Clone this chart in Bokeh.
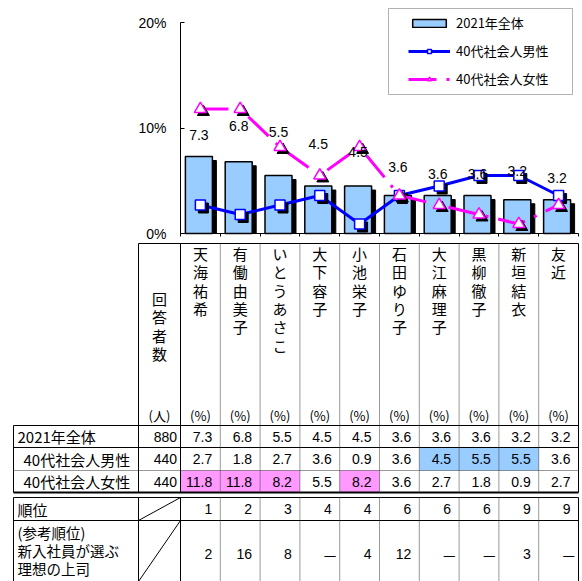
from bokeh.plotting import figure
from bokeh.models import (Range1d, LinearAxis, FixedTicker, PrintfTickFormatter,
                          Legend, LegendItem, BoxAnnotation)
from bokeh.core.properties import value
from bokeh.embed import file_html
from bokeh.resources import INLINE

# ---------------- data ----------------
names = ["天海祐希", "有働由美子", "いとうあさこ", "大下容子", "小池栄子",
         "石田ゆり子", "大江麻理子", "黒柳徹子", "新垣結衣", "友近"]
total = [7.3, 6.8, 5.5, 4.5, 4.5, 3.6, 3.6, 3.6, 3.2, 3.2]
male = [2.7, 1.8, 2.7, 3.6, 0.9, 3.6, 4.5, 5.5, 5.5, 3.6]
female = [11.8, 11.8, 8.2, 5.5, 8.2, 3.6, 2.7, 1.8, 0.9, 2.7]
male_hi = [False, False, False, False, False, False, True, True, True, False]
female_hi = [True, True, True, False, True, False, False, False, False, False]
rank = [1, 2, 3, 4, 4, 6, 6, 6, 9, 9]
ref_rank = [2, 16, 8, None, 4, 12, None, None, 3, None]
row_labels = ["2021年全体", "40代社会人男性", "40代社会人女性"]
n_resp = [880, 440, 440]
y_ticks = [0, 10, 20]
resp_header = "回答者数"
ref_label = ["(参考順位)", "新入社員が選ぶ", "理想の上司"]

# ---------------- layout / style constants ----------------
W, H = 582, 581
X0 = 180          # px of category 0 boundary
PXU = 39.8        # px per category unit
Y0 = 233          # px of 0 %
PPY = 10.55       # px per percent
label_lift = [21, 36, 43, 42, 34, 29, 22, 22, 29, 22]   # px above bar top (label placement)
JP = "Noto Sans CJK JP"
EN = "Liberation Sans"
BAR_C = "#99CCFF"
PINK = "#FF99FF"
n = len(names)
cx = [i + 0.5 for i in range(n)]

p = figure(width=W, height=H, x_range=Range1d(-X0 / PXU, (W - X0) / PXU),
           y_range=Range1d(-(H - Y0) / PPY, Y0 / PPY),
           x_axis_type=None, y_axis_type=None, output_backend="svg",
           toolbar_location=None, min_border=0)
p.extra_y_ranges = {"tbl": Range1d(H, 0)}
p.outline_line_color = None
p.xgrid.visible = False
p.ygrid.visible = False
p.background_fill_color = "white"
p.border_fill_color = "white"

# ---------------- chart axes ----------------
yaxis = LinearAxis(fixed_location=0, ticker=FixedTicker(ticks=y_ticks),
                   formatter=PrintfTickFormatter(format="%d%%"),
                   bounds=(0, 20), major_tick_in=4, major_tick_out=0,
                   minor_tick_in=0, minor_tick_out=0, major_label_standoff=14,
                   major_label_text_font=EN, major_label_text_font_size="14px",
                   major_label_text_color="black",
                   axis_line_color="black", major_tick_line_color="black")
p.add_layout(yaxis, "left")
xaxis = LinearAxis(fixed_location=0, ticker=FixedTicker(ticks=list(range(n + 1))),
                   bounds=(0, n), major_tick_in=0, major_tick_out=3,
                   minor_tick_in=0, minor_tick_out=0,
                   major_label_text_font_size="0px", major_label_standoff=0,
                   major_label_overrides={i: "" for i in range(n + 1)},
                   axis_line_color="black", major_tick_line_color="black")
p.add_layout(xaxis, "below")

# ---------------- bars ----------------
BW = 27 / PXU
bx = [c - 1.5 / PXU for c in cx]
p.vbar(x=[b + 4 / PXU for b in bx], top=[t - 4 / PPY for t in total], bottom=0,
       width=BW, fill_color="black", line_color="black")
bars = p.vbar(x=bx, top=total, bottom=0, width=BW, fill_color=BAR_C,
              line_color="black", line_width=1.5)

# ---------------- lines ----------------
sx, sy = 3 / PXU, 3 / PPY
male_line = p.line(cx, male, line_color="#0000FF", line_width=3)
p.scatter([c + sx for c in cx], [v - sy for v in male], marker="square", size=10,
          fill_color="black", line_color="black")
male_mk = p.scatter(cx, male, marker="square", size=10, fill_color="white",
                    line_color="#0000FF", line_width=1.5)

fem_line = p.line(cx, female, line_color="#FF00FF", line_width=3,
                  line_dash="28 10 3 10")
p.scatter([c + sx for c in cx], [v - sy for v in female], marker="triangle",
          size=12, fill_color="black", line_color="black")
fem_mk = p.scatter(cx, female, marker="triangle", size=12, fill_color="white",
                   line_color="#FF00FF", line_width=1.5)

p.text(x=bx, y=[t + d / PPY for t, d in zip(total, label_lift)],
       text=[f"{t:.1f}" for t in total],
       text_align="center", text_baseline="middle", text_font=value(EN),
       text_font_size="14px", text_color="black")

# ---------------- legend ----------------
box = BoxAnnotation(left=(388 - X0) / PXU, right=(572 - X0) / PXU,
                    top=(Y0 - 8) / PPY, bottom=(Y0 - 94) / PPY,
                    fill_color="white", fill_alpha=1.0, line_color="black",
                    line_width=1)
p.add_layout(box)
legend = Legend(items=[LegendItem(label=row_labels[0], renderers=[bars]),
                       LegendItem(label=row_labels[1], renderers=[male_line, male_mk]),
                       LegendItem(label=row_labels[2], renderers=[fem_line, fem_mk])],
                location=(408, H - 88), orientation="vertical", glyph_width=42,
                glyph_height=10, label_height=19, label_standoff=6, spacing=9,
                padding=0, margin=0, border_line_alpha=0,
                background_fill_alpha=0, label_text_font=JP,
                label_text_font_size="13px", label_text_color="black")
p.add_layout(legend, "center")

# ---------------- table ----------------
T = dict(y_range_name="tbl")
Y_TOP, Y_HDR = 243, 425
rows_b = [425, 447, 470, 492]
Y_RK, Y_RK2, Y_END = 497, 520, 583
X_L = (13 - X0) / PXU
X_N = (138 - X0) / PXU
X_R = n

hl_l, hl_r, hl_t, hl_b, hl_c = [], [], [], [], []
for i in range(n):
    if male_hi[i]:
        hl_l.append(i); hl_r.append(i + 1); hl_t.append(rows_b[1]); hl_b.append(rows_b[2]); hl_c.append(BAR_C)
    if female_hi[i]:
        hl_l.append(i); hl_r.append(i + 1); hl_t.append(rows_b[2]); hl_b.append(rows_b[3]); hl_c.append(PINK)
p.quad(left=hl_l, right=hl_r, top=hl_t, bottom=hl_b, fill_color=hl_c,
       line_color=None, **T)

s_x0, s_y0, s_x1, s_y1 = [], [], [], []
def seg(x0, y0, x1, y1):
    s_x0.append(x0); s_y0.append(y0); s_x1.append(x1); s_y1.append(y1)
seg(X_N, Y_TOP, X_R, Y_TOP)
for xv in (X_N, 0, X_R):
    seg(xv, Y_TOP, xv, rows_b[3])
    seg(xv, Y_RK, xv, Y_END)
seg(X_L, Y_HDR, X_L, rows_b[3])
seg(X_L, Y_RK, X_L, Y_END)
for yv in (rows_b[0], rows_b[1], Y_RK, Y_RK2):
    seg(X_L, yv, X_R, yv)
seg(X_N, Y_RK2, 0, Y_RK)
seg(X_N, 581, 0, Y_RK2)
p.segment(s_x0, s_y0, s_x1, s_y1, line_color="black", line_width=1, **T)
p.segment([X_L], [rows_b[3]], [X_R], [rows_b[3]], line_color="black",
          line_width=2, **T)

d_x0, d_y0, d_x1, d_y1 = [], [], [], []
for i in range(1, n):
    d_x0 += [i, i]; d_x1 += [i, i]; d_y0 += [Y_TOP, Y_RK]; d_y1 += [rows_b[3], Y_END]
d_x0.append(X_L); d_x1.append(X_R); d_y0.append(rows_b[2]); d_y1.append(rows_b[2])
p.segment(d_x0, d_y0, d_x1, d_y1, line_color="#333333", line_width=1,
          line_dash="1 1", **T)

# header texts
STEP = 18.3
hx, hy, ht = [], [], []
for i, nm in enumerate(names):
    for k, ch in enumerate(nm):
        hx.append(cx[i]); hy.append(253 + k * STEP); ht.append(ch)
for k, ch in enumerate(resp_header):
    hx.append(X_N / 2); hy.append(298 + k * STEP); ht.append(ch)
p.text(hx, hy, text=ht, text_align="center", text_baseline="middle",
       text_font=value(JP), text_font_size="15px", text_color="black", **T)
p.text([X_N / 2] + cx, [415] * (n + 1), text=["(人)"] + ["(%)"] * n,
       text_align="center", text_baseline="middle", text_font=value(JP),
       text_font_size="13px", text_color="black", **T)

# row labels
row_c = [(rows_b[j] + rows_b[j + 1]) / 2 for j in range(3)]
lab_x = [X_L + 4 / PXU, X_L + 10 / PXU, X_L + 10 / PXU]
p.text(lab_x + [X_L + 4 / PXU], row_c + [508.5],
       text=row_labels + ["順位"], text_align="left",
       text_baseline="middle", text_font=value(JP), text_font_size="15px",
       text_color="black", **T)
p.text([X_L + 4 / PXU] * 3, [532, 550, 567.5], text=ref_label, text_align="left",
       text_baseline="middle", text_font=value(JP), text_font_size="14.5px",
       text_color="black", **T)

# numbers
vx, vy, vt = [], [], []
for j in range(3):
    vx.append(-3.5 / PXU); vy.append(row_c[j]); vt.append(str(n_resp[j]))
for j, ser in enumerate([total, male, female]):
    for i in range(n):
        vx.append(i + 1 - 8 / PXU); vy.append(row_c[j]); vt.append(f"{ser[i]:.1f}")
for i in range(n):
    vx.append(i + 1 - 8 / PXU); vy.append(508.5); vt.append(str(rank[i]))
dx, dy, dt = [], [], []
for i in range(n):
    if ref_rank[i] is None:
        dx.append(i + 1 - 3.5 / PXU); dy.append(553); dt.append("—")
    else:
        vx.append(i + 1 - 8 / PXU); vy.append(553); vt.append(str(ref_rank[i]))
p.text(vx, vy, text=vt, text_align="right", text_baseline="middle",
       text_font=value(EN), text_font_size="14px", text_color="black", **T)
p.text(dx, dy, text=dt, text_align="right", text_baseline="middle",
       text_font=value(JP), text_font_size="14px", text_color="black", **T)

open("out.html", "w").write(file_html(p, INLINE))
